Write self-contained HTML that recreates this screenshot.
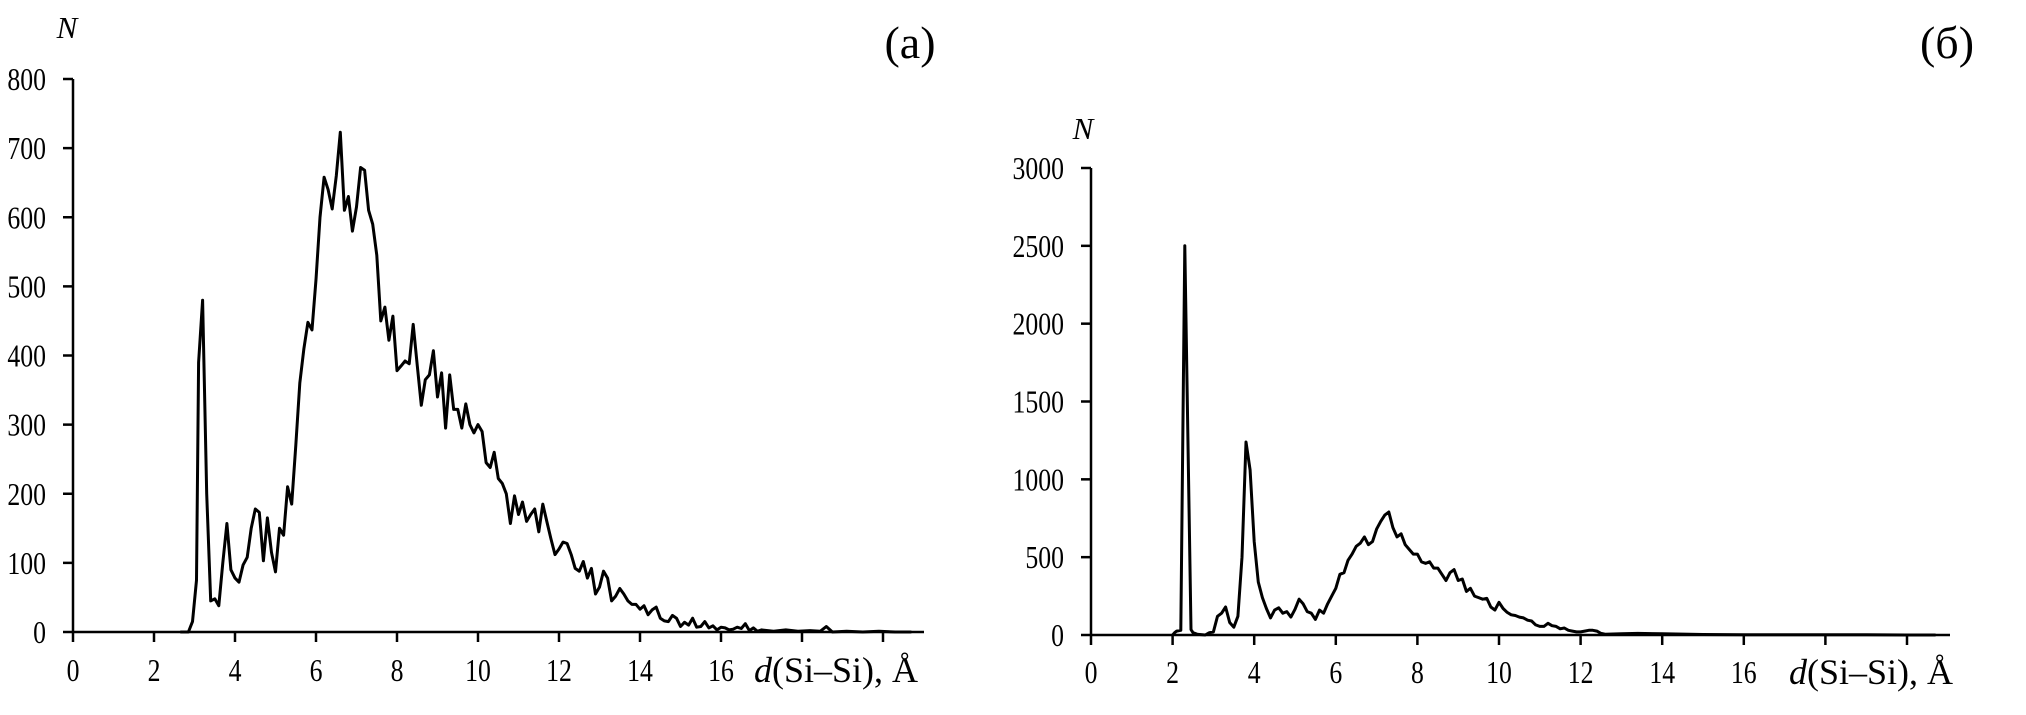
<!DOCTYPE html>
<html><head><meta charset="utf-8"><style>
html,body{margin:0;padding:0;background:#fff;}
svg{display:block;}
text{font-family:"Liberation Serif","DejaVu Serif",serif;fill:#000;}
</style></head><body>
<svg id="s" width="2026" height="715" viewBox="0 0 2026 715" xmlns="http://www.w3.org/2000/svg">
<g stroke="#000" stroke-width="2.5" fill="none">
<line x1="73" y1="79" x2="73" y2="632"/>
<line x1="73" y1="632" x2="924" y2="632"/>
<line x1="1091" y1="168" x2="1091" y2="635"/>
<line x1="1091" y1="635" x2="1950" y2="635"/>
</g>
<g id="ticks" stroke="#000" stroke-width="2.5"></g>
<g id="labels" font-size="28"></g>
<text x="67" y="38" font-size="31" font-style="italic" text-anchor="middle">N</text>
<text x="1083" y="139" font-size="31" font-style="italic" text-anchor="middle">N</text>
<text x="910" y="58" font-size="46" text-anchor="middle">(a)</text>
<text x="1947" y="58" font-size="46" text-anchor="middle">(б)</text>
<text x="754" y="682" font-size="36"><tspan font-style="italic">d</tspan>(Si–Si), Å</text>
<text x="1789" y="684" font-size="36"><tspan font-style="italic">d</tspan>(Si–Si), Å</text>
<polyline id="p1" fill="none" stroke="#000" stroke-width="3" stroke-linejoin="round"/>
<polyline id="p2" fill="none" stroke="#000" stroke-width="3" stroke-linejoin="round"/>
</svg>
<script>
var NS="http://www.w3.org/2000/svg";
function el(t,a,p,txt){var e=document.createElementNS(NS,t);for(var k in a)e.setAttribute(k,a[k]);if(txt!==undefined)e.textContent=txt;document.getElementById(p).appendChild(e);}
function lab(x,y,anchor,s){el('text',{x:0,y:0,'text-anchor':anchor,transform:'translate('+x+','+y+') scale(0.92,1.15)'},'labels',s);}
var L={x0:73,sx:40.5,y0:632,sy:553/800};
for(var i=0;i<=8;i++){var y=L.y0-i*100*L.sy;el('line',{x1:63,y1:y,x2:73,y2:y},'ticks');lab(46,y+11,'end',String(i*100));}
for(var i=0;i<=10;i++){var x=L.x0+i*2*L.sx;el('line',{x1:x,y1:632,x2:x,y2:642},'ticks');if(i<=8)lab(x,681,'middle',String(i*2));}
var R={x0:1091,sx:40.8,y0:635,sy:467/3000};
for(var i=0;i<=6;i++){var y=R.y0-i*500*R.sy;el('line',{x1:1081,y1:y,x2:1091,y2:y},'ticks');lab(1064,y+11,'end',String(i*500));}
for(var i=0;i<=10;i++){var x=R.x0+i*2*R.sx;el('line',{x1:x,y1:635,x2:x,y2:645},'ticks');if(i<=8)lab(x,683,'middle',String(i*2));}
var d1=[2.65,0,2.85,0,2.95,15,3.05,75,3.1,390,3.2,480,3.3,200,3.4,45,3.5,48,3.6,38,3.7,100,3.8,157,3.9,90,4.0,78,4.1,72,4.2,97,4.3,108,4.4,150,4.5,178,4.6,173,4.7,103,4.8,165,4.9,115,5.0,87,5.1,150,5.2,140,5.3,210,5.4,185,5.5,270,5.6,360,5.7,410,5.8,448,5.9,437,6.0,510,6.1,600,6.2,658,6.3,640,6.4,612,6.5,660,6.6,723,6.7,610,6.8,630,6.9,580,7.0,615,7.1,672,7.2,668,7.3,610,7.4,590,7.5,545,7.6,450,7.7,470,7.8,422,7.9,457,8.0,378,8.1,385,8.2,392,8.3,388,8.4,445,8.5,385,8.6,328,8.7,365,8.8,372,8.9,407,9.0,340,9.1,375,9.2,295,9.3,372,9.4,322,9.5,322,9.6,295,9.7,330,9.8,300,9.9,288,10.0,300,10.1,290,10.2,245,10.3,238,10.4,260,10.5,222,10.6,215,10.7,200,10.8,157,10.9,197,11.0,170,11.1,188,11.2,160,11.3,170,11.4,178,11.5,145,11.6,185,11.7,160,11.8,135,11.9,112,12.0,120,12.1,130,12.2,128,12.3,112,12.4,92,12.5,88,12.6,102,12.7,78,12.8,92,12.9,55,13.0,65,13.1,88,13.2,78,13.3,45,13.4,52,13.5,63,13.6,55,13.7,45,13.8,40,13.9,40,14.0,33,14.1,38,14.2,25,14.3,32,14.4,36,14.5,20,14.6,16,14.7,15,14.8,24,14.9,20,15.0,8,15.1,14,15.2,10,15.3,20,15.4,7,15.5,8,15.6,15,15.7,6,15.8,9,15.9,3,16.0,7,16.1,6,16.2,3,16.3,4,16.4,7,16.5,5,16.6,12,16.7,2,16.8,6,16.9,1,17.0,3,17.3,1,17.6,3,17.9,1,18.2,2,18.45,1,18.6,8,18.75,0,19.1,1,19.5,0,19.9,1,20.3,0,20.7,0];
var d2=[2.0,0,2.05,15,2.1,25,2.2,30,2.3,2500,2.45,35,2.5,15,2.6,5,2.8,0,2.9,15,3.0,20,3.1,120,3.2,140,3.3,180,3.4,80,3.5,50,3.6,120,3.7,500,3.8,1240,3.9,1060,4.0,600,4.1,340,4.2,240,4.3,170,4.4,110,4.5,160,4.6,175,4.7,140,4.8,150,4.9,115,5.0,165,5.1,230,5.2,200,5.3,150,5.4,140,5.5,100,5.6,160,5.7,140,5.8,200,5.9,250,6.0,300,6.1,390,6.2,400,6.3,480,6.4,520,6.5,570,6.6,590,6.7,630,6.8,580,6.9,600,7.0,680,7.1,730,7.2,770,7.3,790,7.4,690,7.5,630,7.6,650,7.7,580,7.8,550,7.9,520,8.0,520,8.1,470,8.2,460,8.3,470,8.4,430,8.5,430,8.6,390,8.7,350,8.8,400,8.9,420,9.0,350,9.1,360,9.2,280,9.3,300,9.4,250,9.5,240,9.6,230,9.7,235,9.8,180,9.9,160,10.0,210,10.1,170,10.2,145,10.3,130,10.4,125,10.5,115,10.6,110,10.7,95,10.8,90,10.9,65,11.0,55,11.1,55,11.2,75,11.3,60,11.4,55,11.5,40,11.6,45,11.7,30,11.8,25,11.9,20,12.0,20,12.1,25,12.2,30,12.3,30,12.4,25,12.5,10,12.6,5,13,8,13.4,10,14,8,15,3,16,2,17,2,18,1,19,1,20,0,20.7,0];
function pts(d,C){var s=[];for(var i=0;i<d.length;i+=2)s.push((C.x0+d[i]*C.sx).toFixed(1)+','+(C.y0-d[i+1]*C.sy).toFixed(1));return s.join(' ');}
document.getElementById('p1').setAttribute('points',pts(d1,L));
document.getElementById('p2').setAttribute('points',pts(d2,R));
</script>
</body></html>
